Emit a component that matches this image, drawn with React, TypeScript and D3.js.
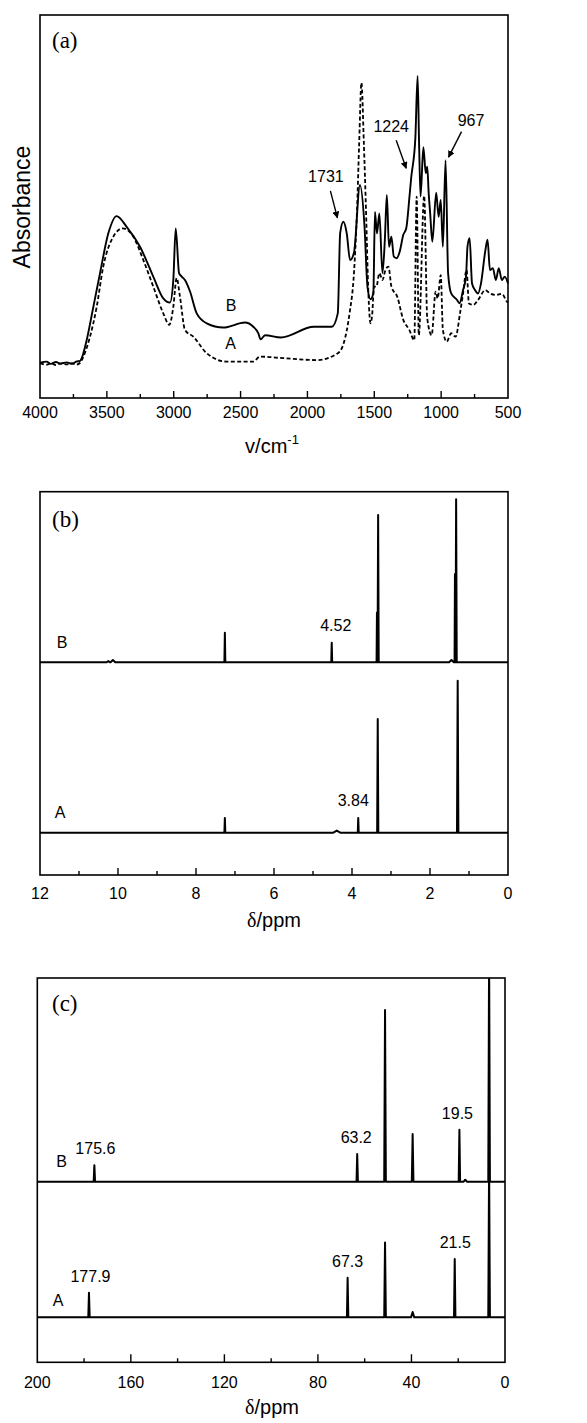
import React from "react";
import * as d3 from "d3";

// ---------- FT-IR spectra: [wavenumber (cm-1), absorbance (a.u.)] ----------
const IR_B: [number, number][] = [
  [4000, 0.092], [3950, 0.095], [3920, 0.089], [3880, 0.094], [3850, 0.09], [3800, 0.093],
  [3760, 0.089], [3730, 0.095], [3700, 0.097], [3688, 0.104], [3651, 0.151], [3601, 0.238],
  [3551, 0.326], [3489, 0.43], [3427, 0.475], [3352, 0.447], [3252, 0.395], [3153, 0.317],
  [3078, 0.26], [3028, 0.249], [3003, 0.308], [2985, 0.443], [2960, 0.326], [2940, 0.317],
  [2916, 0.308], [2878, 0.278], [2828, 0.221], [2753, 0.195], [2629, 0.184], [2467, 0.197],
  [2405, 0.186], [2367, 0.169], [2350, 0.153], [2317, 0.164], [2198, 0.158], [1952, 0.186],
  [1818, 0.186], [1773, 0.221], [1755, 0.431], [1731, 0.46], [1706, 0.43], [1681, 0.36],
  [1652, 0.379], [1607, 0.556], [1573, 0.447], [1551, 0.291], [1528, 0.258], [1507, 0.274],
  [1495, 0.486], [1480, 0.43], [1462, 0.482], [1439, 0.326], [1421, 0.413], [1406, 0.53],
  [1390, 0.395], [1372, 0.421], [1354, 0.369], [1332, 0.365], [1310, 0.382], [1283, 0.426],
  [1261, 0.443], [1238, 0.521], [1224, 0.575], [1193, 0.678], [1176, 0.841], [1165, 0.665],
  [1154, 0.526], [1133, 0.655], [1115, 0.587], [1104, 0.604], [1093, 0.534], [1082, 0.482],
  [1066, 0.408], [1037, 0.536], [1019, 0.473], [1003, 0.517], [987, 0.395], [967, 0.621],
  [948, 0.326], [925, 0.273], [881, 0.256], [863, 0.247], [836, 0.282], [814, 0.317],
  [803, 0.395], [787, 0.417], [769, 0.299], [747, 0.282], [724, 0.273], [702, 0.299],
  [669, 0.386], [653, 0.413], [635, 0.334], [613, 0.339], [591, 0.308], [569, 0.339],
  [546, 0.308], [524, 0.317], [500, 0.299],
];

const IR_A: [number, number][] = [
  [4000, 0.091], [3950, 0.087], [3920, 0.091], [3880, 0.086], [3850, 0.09], [3800, 0.088],
  [3760, 0.091], [3730, 0.087], [3700, 0.092], [3688, 0.099], [3626, 0.16], [3576, 0.238],
  [3527, 0.343], [3452, 0.421], [3382, 0.443], [3302, 0.421], [3227, 0.36], [3153, 0.291],
  [3078, 0.221], [3033, 0.191], [3003, 0.238], [2978, 0.313], [2953, 0.264], [2916, 0.178],
  [2853, 0.16], [2753, 0.117], [2604, 0.095], [2405, 0.095], [2355, 0.108], [2180, 0.104],
  [1931, 0.099], [1773, 0.117], [1729, 0.143], [1685, 0.221], [1652, 0.326], [1629, 0.491],
  [1613, 0.665], [1596, 0.823], [1578, 0.665], [1562, 0.491], [1544, 0.273], [1528, 0.195],
  [1515, 0.221], [1502, 0.291], [1484, 0.291], [1462, 0.326], [1439, 0.308], [1417, 0.334],
  [1394, 0.343], [1372, 0.291], [1328, 0.264], [1283, 0.204], [1238, 0.178], [1201, 0.151],
  [1183, 0.526], [1167, 0.164], [1127, 0.528], [1104, 0.208], [1071, 0.164], [1041, 0.278],
  [1026, 0.26], [1003, 0.321], [987, 0.178], [958, 0.147], [925, 0.169], [892, 0.16],
  [859, 0.221], [836, 0.273], [810, 0.334], [792, 0.247], [758, 0.243], [724, 0.256],
  [669, 0.282], [635, 0.273], [591, 0.269], [546, 0.272], [506, 0.251], [500, 0.25],
];

const IR_TICKS = [4000, 3500, 3000, 2500, 2000, 1500, 1000, 500];
const IR_BANDS: { wn: number; a: number; label: string }[] = [
  { wn: 1731, a: 0.46, label: "1731" },
  { wn: 1224, a: 0.575, label: "1224" },
  { wn: 967, a: 0.621, label: "967" },
];

// ---------- 1H NMR peaks: ppm, intensity, half-width (ppm) ----------
type Peak = { ppm: number; h: number; w: number };
const H_NMR_B: Peak[] = [
  { ppm: 10.25, h: 0.3, w: 0.04 }, { ppm: 10.13, h: 0.6, w: 0.06 },
  { ppm: 7.26, h: 7.7, w: 0.012 }, { ppm: 4.52, h: 5.1, w: 0.012 },
  { ppm: 3.36, h: 13, w: 0.01 }, { ppm: 3.33, h: 38.4, w: 0.015 },
  { ppm: 1.45, h: 0.6, w: 0.06 }, { ppm: 1.36, h: 23, w: 0.01 },
  { ppm: 1.33, h: 42.5, w: 0.015 },
];
const H_NMR_A: Peak[] = [
  { ppm: 7.26, h: 3.9, w: 0.012 }, { ppm: 4.39, h: 0.6, w: 0.1 },
  { ppm: 3.84, h: 3.9, w: 0.012 }, { ppm: 3.34, h: 29.7, w: 0.015 },
  { ppm: 1.29, h: 39.7, w: 0.018 },
];
const H_TICKS = [12, 10, 8, 6, 4, 2, 0];
const H_OFFSET_B = 55.5;
const H_OFFSET_A = 11.0;

// ---------- 13C NMR peaks ----------
const C_NMR_B: Peak[] = [
  { ppm: 175.6, h: 4.3, w: 0.3 }, { ppm: 63.2, h: 7.2, w: 0.3 },
  { ppm: 51.3, h: 44.7, w: 0.35 }, { ppm: 39.5, h: 12.4, w: 0.35 },
  { ppm: 19.5, h: 13.5, w: 0.3 }, { ppm: 17.0, h: 0.5, w: 0.7 },
  { ppm: 6.8, h: 60, w: 0.35 },
];
const C_NMR_A: Peak[] = [
  { ppm: 177.9, h: 6.4, w: 0.3 }, { ppm: 67.3, h: 10.3, w: 0.3 },
  { ppm: 51.3, h: 19.5, w: 0.35 }, { ppm: 39.5, h: 1.4, w: 0.7 },
  { ppm: 21.5, h: 15.2, w: 0.3 }, { ppm: 6.8, h: 40, w: 0.35 },
];
const C_TICKS = [200, 160, 120, 80, 40, 0];
const C_OFFSET_B = 47.0;
const C_OFFSET_A = 11.7;

const SANS = "'Liberation Sans', Arial, Helvetica, sans-serif";
const SERIF = "'Liberation Serif', 'Times New Roman', Times, serif";

// Builds a stick spectrum outline from a peak list, running from hi to lo ppm
function stickSpectrum(peaks: Peak[], hi: number, lo: number, offset: number): [number, number][] {
  const pts: [number, number][] = [[hi, offset]];
  [...peaks].sort((a, b) => b.ppm - a.ppm).forEach((p) => {
    pts.push([p.ppm + p.w, offset], [p.ppm, offset + p.h], [p.ppm - p.w, offset]);
  });
  pts.push([lo, offset]);
  return pts;
}

type Box = { left: number; right: number; top: number; bottom: number };

function Ticks({ box, scale, majors, minorLen, majorLen }: {
  box: Box; scale: d3.ScaleLinear<number, number>; majors: number[]; minorLen: number; majorLen: number;
}) {
  const minors: number[] = [];
  for (let i = 0; i < majors.length - 1; i++) minors.push((majors[i] + majors[i + 1]) / 2);
  return (
    <g stroke="#000" strokeWidth={1.4}>
      {majors.slice(1, -1).map((t) => (
        <line key={"M" + t} x1={scale(t)} x2={scale(t)} y1={box.bottom} y2={box.bottom - majorLen} />
      ))}
      {minors.map((t) => (
        <line key={"m" + t} x1={scale(t)} x2={scale(t)} y1={box.bottom} y2={box.bottom - minorLen} />
      ))}
    </g>
  );
}

function TickLabels({ scale, ticks, y }: { scale: d3.ScaleLinear<number, number>; ticks: number[]; y: number }) {
  return (
    <g fontFamily={SANS} fontSize={16} textAnchor="middle" fill="#000">
      {ticks.map((t) => (
        <text key={t} x={scale(t)} y={y}>{t}</text>
      ))}
    </g>
  );
}

function Frame({ box }: { box: Box }) {
  return (
    <rect x={box.left} y={box.top} width={box.right - box.left} height={box.bottom - box.top}
      fill="none" stroke="#000" strokeWidth={1.6} />
  );
}

export default function App() {
  // Panel (a): FT-IR
  const boxA: Box = { left: 40, right: 508, top: 15, bottom: 398 };
  const xA = d3.scaleLinear().domain([4000, 500]).range([boxA.left, boxA.right]);
  const yA = d3.scaleLinear().domain([0, 1]).range([boxA.bottom, boxA.top]);
  const irLine = d3.line<[number, number]>().x((d) => xA(d[0])).y((d) => yA(d[1])).curve(d3.curveMonotoneX);

  // Panel (b): 1H NMR
  const boxB: Box = { left: 40, right: 508, top: 491.7, bottom: 875 };
  const xB = d3.scaleLinear().domain([12, 0]).range([boxB.left, boxB.right]);
  const yB = d3.scaleLinear().domain([0, 100]).range([boxB.bottom, boxB.top]);
  const hLine = d3.line<[number, number]>().x((d) => xB(d[0])).y((d) => yB(d[1]));

  // Panel (c): 13C NMR
  const boxC: Box = { left: 37.3, right: 505, top: 978, bottom: 1362.3 };
  const xC = d3.scaleLinear().domain([200, 0]).range([boxC.left, boxC.right]);
  const yC = d3.scaleLinear().domain([0, 100]).range([boxC.bottom, boxC.top]);
  const cLine = d3.line<[number, number]>().x((d) => xC(d[0])).y((d) => yC(d[1]));

  // arrow start/end offsets for the IR band labels
  const arrowGeom: Record<string, { tx: number; ty: number; sx: number; sy: number; lx: number; ly: number }> = {
    "1731": { tx: -6, ty: -4, sx: -13, sy: -31, lx: -17.5, ly: -40 },
    "1224": { tx: -5, ty: -9.5, sx: -15, sy: -37.5, lx: -20, ly: -46 },
    "967": { tx: 3, ty: -3, sx: 16, sy: -28.5, lx: 25.5, ly: -34 },
  };

  const hpk = (peaks: Peak[], ppm: number) => peaks.find((p) => p.ppm === ppm)!;

  return (
    <svg width={587} height={1423} viewBox="0 0 587 1423"
      style={{ position: "absolute", left: 0, top: 0, background: "#fff" }}>
      <defs>
        <marker id="arrowHead" viewBox="0 0 10 10" refX={9} refY={5} markerWidth={7} markerHeight={7}
          markerUnits="userSpaceOnUse" orient="auto">
          <path d="M0,0 L10,5 L0,10 z" fill="#000" />
        </marker>
        <clipPath id="clipC">
          <rect x={boxC.left} y={boxC.top} width={boxC.right - boxC.left} height={boxC.bottom - boxC.top} />
        </clipPath>
      </defs>
      <rect x={0} y={0} width={587} height={1423} fill="#fff" />

      {/* ---------------- (a) FT-IR ---------------- */}
      <g>
        <path d={irLine(IR_A) || ""} fill="none" stroke="#000" strokeWidth={1.8} strokeDasharray="4,2.4" />
        <path d={irLine(IR_B) || ""} fill="none" stroke="#000" strokeWidth={1.9} strokeLinejoin="round" />
        <Frame box={boxA} />
        <Ticks box={boxA} scale={xA} majors={IR_TICKS} minorLen={4} majorLen={7} />
        <TickLabels scale={xA} ticks={IR_TICKS} y={417.5} />
        <text x={52} y={48} fontFamily={SERIF} fontSize={23}>(a)</text>
        <text x={231} y={310.5} fontFamily={SANS} fontSize={16} textAnchor="middle">B</text>
        <text x={230.5} y={349.3} fontFamily={SANS} fontSize={16} textAnchor="middle">A</text>
        {IR_BANDS.map((b) => {
          const g = arrowGeom[b.label];
          const px = xA(b.wn), py = yA(b.a);
          return (
            <g key={b.label}>
              <line x1={px + g.sx} y1={py + g.sy} x2={px + g.tx} y2={py + g.ty}
                stroke="#000" strokeWidth={1.4} markerEnd="url(#arrowHead)" />
              <text x={px + g.lx} y={py + g.ly} fontFamily={SANS} fontSize={16} textAnchor="middle">{b.label}</text>
            </g>
          );
        })}
        <text x={272} y={453} fontFamily={SANS} fontSize={20} textAnchor="middle">
          v/cm<tspan dy={-9} fontSize={13}>-1</tspan>
        </text>
        <text transform="translate(30,207) rotate(-90)" fontFamily={SANS} fontSize={23} textAnchor="middle">Absorbance</text>
      </g>

      {/* ---------------- (b) 1H NMR ---------------- */}
      <g>
        <path d={hLine(stickSpectrum(H_NMR_A, 12, 0, H_OFFSET_A)) || ""} fill="none" stroke="#000" strokeWidth={2} strokeLinejoin="round" />
        <path d={hLine(stickSpectrum(H_NMR_B, 12, 0, H_OFFSET_B)) || ""} fill="none" stroke="#000" strokeWidth={2} strokeLinejoin="round" />
        <Frame box={boxB} />
        <Ticks box={boxB} scale={xB} majors={H_TICKS} minorLen={4} majorLen={7} />
        <TickLabels scale={xB} ticks={H_TICKS} y={899} />
        <text x={52} y={527} fontFamily={SERIF} fontSize={23}>(b)</text>
        <text x={62} y={648} fontFamily={SANS} fontSize={16} textAnchor="middle">B</text>
        <text x={60} y={818} fontFamily={SANS} fontSize={16} textAnchor="middle">A</text>
        <text x={xB(4.52) + 4} y={yB(H_OFFSET_B + hpk(H_NMR_B, 4.52).h) - 11.5} fontFamily={SANS} fontSize={16} textAnchor="middle">4.52</text>
        <text x={xB(3.84) - 5} y={yB(H_OFFSET_A + hpk(H_NMR_A, 3.84).h) - 11.5} fontFamily={SANS} fontSize={16} textAnchor="middle">3.84</text>
        <text x={274} y={927} fontFamily={SANS} fontSize={20} textAnchor="middle">
          <tspan fontFamily={SERIF}>δ</tspan>/ppm
        </text>
      </g>

      {/* ---------------- (c) 13C NMR ---------------- */}
      <g>
        <g clipPath="url(#clipC)">
          <path d={cLine(stickSpectrum(C_NMR_A, 200, 0, C_OFFSET_A)) || ""} fill="none" stroke="#000" strokeWidth={2} strokeLinejoin="round" />
          <path d={cLine(stickSpectrum(C_NMR_B, 200, 0, C_OFFSET_B)) || ""} fill="none" stroke="#000" strokeWidth={2} strokeLinejoin="round" />
        </g>
        <Frame box={boxC} />
        <Ticks box={boxC} scale={xC} majors={C_TICKS} minorLen={4} majorLen={8} />
        <TickLabels scale={xC} ticks={C_TICKS} y={1387.5} />
        <text x={52} y={1011} fontFamily={SERIF} fontSize={23}>(c)</text>
        <text x={61.7} y={1167} fontFamily={SANS} fontSize={16} textAnchor="middle">B</text>
        <text x={58} y={1305.7} fontFamily={SANS} fontSize={16} textAnchor="middle">A</text>
        {[
          { peaks: C_NMR_B, off: C_OFFSET_B, ppm: 175.6, label: "175.6", dx: 1 },
          { peaks: C_NMR_B, off: C_OFFSET_B, ppm: 63.2, label: "63.2", dx: -1 },
          { peaks: C_NMR_B, off: C_OFFSET_B, ppm: 19.5, label: "19.5", dx: -2 },
          { peaks: C_NMR_A, off: C_OFFSET_A, ppm: 177.9, label: "177.9", dx: 1.5 },
          { peaks: C_NMR_A, off: C_OFFSET_A, ppm: 67.3, label: "67.3", dx: 0 },
          { peaks: C_NMR_A, off: C_OFFSET_A, ppm: 21.5, label: "21.5", dx: 0.5 },
        ].map((l) => (
          <text key={l.label} x={xC(l.ppm) + l.dx} y={yC(l.off + hpk(l.peaks, l.ppm).h) - 11}
            fontFamily={SANS} fontSize={16} textAnchor="middle">{l.label}</text>
        ))}
        <text x={272} y={1414} fontFamily={SANS} fontSize={20} textAnchor="middle">
          <tspan fontFamily={SERIF}>δ</tspan>/ppm
        </text>
      </g>
    </svg>
  );
}
